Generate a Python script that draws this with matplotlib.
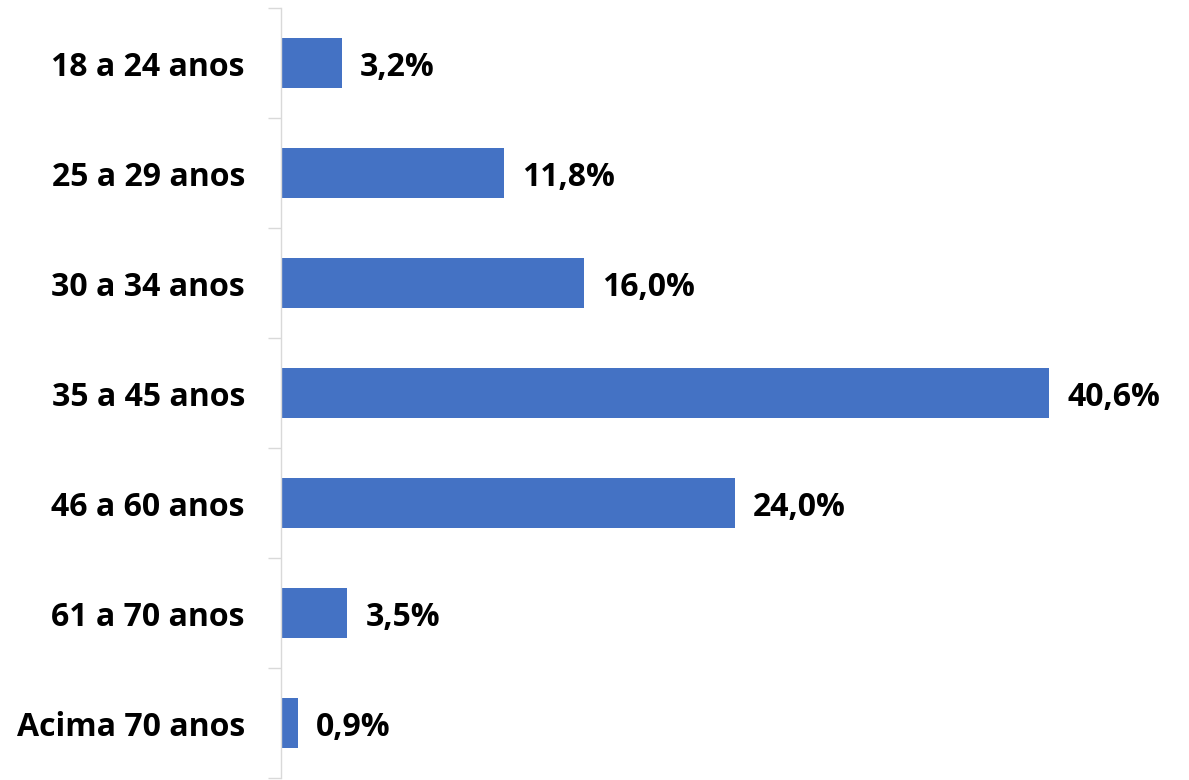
import matplotlib
matplotlib.use("Agg")
import matplotlib.pyplot as plt
from matplotlib.ticker import FixedLocator

categories = ["18 a 24 anos", "25 a 29 anos", "30 a 34 anos", "35 a 45 anos",
              "46 a 60 anos", "61 a 70 anos", "Acima 70 anos"]
values = [3.2, 11.8, 16.0, 40.6, 24.0, 3.5, 0.9]
labels = ["3,2%", "11,8%", "16,0%", "40,6%", "24,0%", "3,5%", "0,9%"]

plt.rcParams['font.family'] = ['Open Sans', 'DejaVu Sans']

fig = plt.figure(figsize=(11.89, 7.80), dpi=100)
ax = fig.add_axes([281/1189, 2/780, (1180-281)/1189, 770/780])

y = list(range(len(categories)))
ax.barh(y, values, height=0.46, color="#4472C4")
for yi, v, lab in zip(y, values, labels):
    ax.annotate(lab, (v, yi), xytext=(13, -3), textcoords="offset points",
                ha="left", va="center", fontsize=23, fontweight="bold", color="black")

ax.set_xlim(0, 47.5)
ax.set_ylim(6.5, -0.5)
ax.set_yticks(y)
ax.set_yticklabels(categories, fontsize=23, fontweight="bold")
ax.tick_params(axis="y", which="major", length=0, pad=26)
ax.yaxis.set_minor_locator(FixedLocator([i - 0.5 for i in range(len(categories) + 1)]))
ax.tick_params(axis="y", which="minor", length=9.4, width=1.0, color="#d9d9d9")
ax.set_xticks([])
for s in ["top", "right", "bottom"]:
    ax.spines[s].set_visible(False)
ax.spines["left"].set_color("#d9d9d9")
ax.spines["left"].set_linewidth(1.0)

fig.savefig("out.png", dpi=100)
